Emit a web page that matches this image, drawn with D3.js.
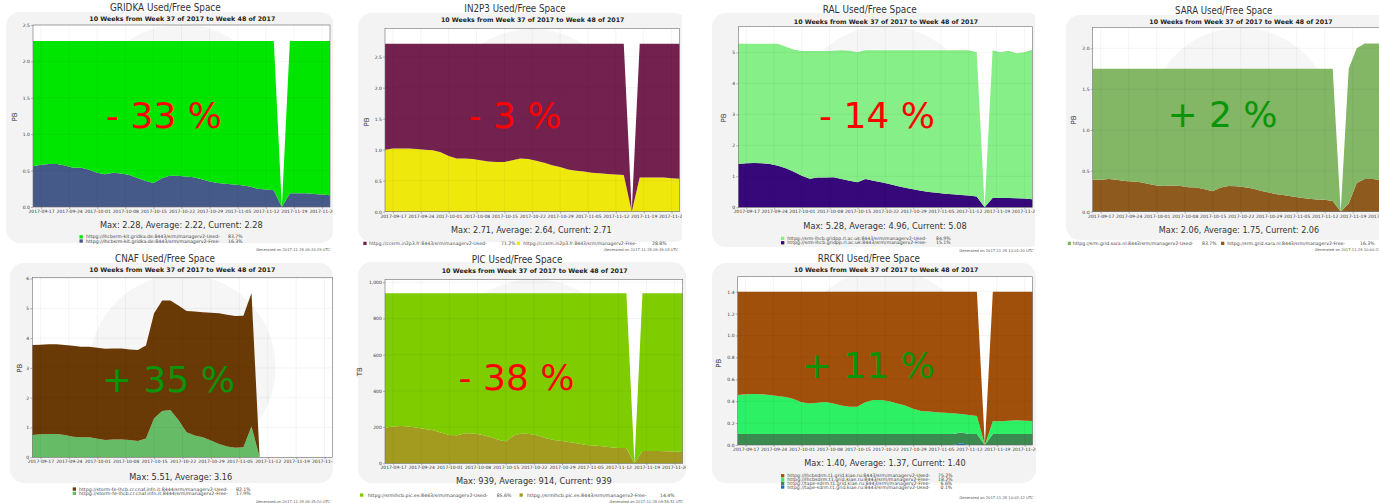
<!DOCTYPE html>
<html>
<head>
<meta charset="utf-8">
<script src="https://cdn.jsdelivr.net/npm/d3@7/dist/d3.min.js"></script>
<style>
html,body{margin:0;padding:0;background:#fff;}
svg{display:block;}
text{font-family:"DejaVu Sans",sans-serif;}
</style>
</head>
<body>
<svg id="chart" width="1379" height="503"></svg>
<script>
// ---------- shared time axis ----------
const dates = ["2017-09-15","2017-09-17","2017-09-19","2017-09-21","2017-09-23","2017-09-25","2017-09-27","2017-09-29",
"2017-10-01","2017-10-03","2017-10-05","2017-10-07","2017-10-09","2017-10-11","2017-10-13","2017-10-15",
"2017-10-17","2017-10-19","2017-10-21","2017-10-23","2017-10-25","2017-10-27","2017-10-29","2017-10-31",
"2017-11-02","2017-11-04","2017-11-06","2017-11-08","2017-11-10","2017-11-12","2017-11-14","2017-11-16",
"2017-11-18","2017-11-20","2017-11-22","2017-11-24","2017-11-26","2017-11-28"];
const xTickLabels = ["2017-09-17","2017-09-24","2017-10-01","2017-10-08","2017-10-15","2017-10-22","2017-10-29","2017-11-05","2017-11-12","2017-11-19","2017-11-26"];

// ---------- GRIDKA (PB) ----------
const gridkaUsed = [1.72,1.70,1.69,1.69,1.71,1.74,1.74,1.77,1.81,1.83,1.81,1.82,1.84,1.88,1.92,1.95,1.89,1.85,1.85,1.86,1.87,1.90,1.93,1.95,1.96,1.97,1.98,2.00,2.03,2.04,2.05,0,2.09,2.09,2.09,2.10,2.11,2.12];
const gridkaFree = [0.56,0.58,0.59,0.59,0.57,0.54,0.54,0.51,0.47,0.45,0.47,0.46,0.44,0.40,0.36,0.33,0.39,0.43,0.43,0.42,0.41,0.38,0.35,0.33,0.32,0.31,0.30,0.28,0.25,0.24,0.23,0,0.19,0.19,0.19,0.18,0.17,0.16];
const gridkaYTicks = [0,0.5,1,1.5,2,2.5];

// ---------- IN2P3 (PB) ----------
const in2p3Used = [1.71,1.69,1.69,1.69,1.70,1.71,1.72,1.75,1.81,1.85,1.85,1.86,1.88,1.90,1.91,1.91,1.88,1.85,1.86,1.89,1.92,1.96,1.99,2.03,2.05,2.06,2.08,2.09,2.10,2.11,2.12,0,2.16,2.16,2.16,2.16,2.17,2.18];
const in2p3Free = [1.00,1.02,1.02,1.02,1.01,1.00,0.99,0.96,0.90,0.86,0.86,0.85,0.83,0.81,0.80,0.80,0.83,0.86,0.85,0.82,0.79,0.75,0.72,0.68,0.66,0.65,0.63,0.62,0.61,0.60,0.59,0,0.55,0.55,0.55,0.55,0.54,0.53];
const in2p3YTicks = [0,0.5,1,1.5,2,2.5];

// ---------- RAL (PB) ----------
const ralUsed = [3.88,3.86,3.85,3.86,3.88,3.94,3.92,3.93,4.02,4.12,4.08,4.08,4.08,4.16,4.19,4.19,4.16,4.21,4.26,4.32,4.38,4.44,4.49,4.54,4.58,4.60,4.63,4.65,4.67,4.69,4.65,0,4.77,4.70,4.75,4.68,4.72,4.82];
const ralFree = [1.40,1.42,1.43,1.42,1.40,1.34,1.26,1.15,1.02,0.92,0.96,0.96,0.97,0.91,0.86,0.81,0.91,0.86,0.81,0.75,0.69,0.63,0.58,0.53,0.49,0.47,0.44,0.42,0.40,0.38,0.35,0,0.30,0.30,0.30,0.29,0.28,0.26];
const ralYTicks = [0,1,2,3,4,5];

// ---------- SARA (PB) ----------
const saraUsed = [1.36,1.36,1.35,1.36,1.375,1.38,1.39,1.41,1.43,1.435,1.43,1.435,1.45,1.455,1.475,1.50,1.455,1.435,1.44,1.45,1.465,1.495,1.515,1.535,1.55,1.565,1.58,1.59,1.60,1.605,1.62,0,1.65,1.65,1.66,1.66,1.67,1.67];
const saraFree = [0.39,0.39,0.40,0.39,0.375,0.37,0.36,0.34,0.32,0.315,0.32,0.315,0.30,0.295,0.275,0.25,0.295,0.315,0.31,0.30,0.285,0.255,0.235,0.215,0.20,0.185,0.17,0.16,0.15,0.145,0.13,0,0.10,0.35,0.40,0.40,0.39,0.39];
const saraYTicks = [0,0.5,1,1.5,2];

// ---------- CNAF (PB) ----------
const cnafUsed = [3.02,3.01,3.01,3.01,3.02,3.05,3.04,3.04,3.06,3.06,3.05,3.05,3.04,3.05,3.12,3.52,3.71,3.67,3.84,4.07,4.16,4.20,4.29,4.38,4.42,4.42,4.41,4.48,0,null,null,null,null,null,null,null,null,null];
const cnafFree = [0.75,0.77,0.78,0.78,0.75,0.69,0.67,0.67,0.62,0.58,0.60,0.60,0.58,0.55,0.63,1.31,1.55,1.59,1.25,0.84,0.73,0.67,0.56,0.45,0.36,0.32,0.34,1.03,0,null,null,null,null,null,null,null,null,null];
const cnafYTicks = [0,1,2,3,4,5,6];

// ---------- PIC (TB) ----------
const picUsed = [742,736,733,735,742,749,757,770,782,784,773,775,781,792,808,819,786,775,777,786,801,810,816,823,830,838,841,845,851,854,854,0,871,871,871,872,874,877];
const picFree = [197,203,206,204,197,190,182,169,157,155,166,164,158,147,131,120,153,164,162,153,138,129,123,116,109,101,98,94,88,85,85,0,68,68,68,67,65,62];
const picYTicks = [0,200,400,600,800,1000];

// ---------- RRCKI (PB) ----------
const rrckiDiskUsed = [0.944,0.937,0.934,0.937,0.944,0.953,0.962,0.98,1.01,1.02,1.014,1.007,1.02,1.04,1.05,1.05,1.01,0.99,0.99,1.00,1.02,1.04,1.07,1.09,1.093,1.10,1.105,1.11,1.117,1.126,1.135,0,1.184,1.184,1.178,1.175,1.178,1.181];
const rrckiDiskFree = [0.356,0.363,0.366,0.363,0.356,0.347,0.338,0.32,0.29,0.28,0.286,0.293,0.28,0.26,0.25,0.25,0.29,0.31,0.31,0.30,0.28,0.26,0.23,0.21,0.207,0.20,0.195,0.19,0.168,0.174,0.165,0,0.116,0.116,0.122,0.125,0.122,0.119];
const rrckiTapeFree = [0.1,0.1,0.1,0.1,0.1,0.1,0.1,0.1,0.1,0.1,0.1,0.1,0.1,0.1,0.1,0.1,0.1,0.1,0.1,0.1,0.1,0.1,0.1,0.1,0.1,0.1,0.1,0.1,0.1,0.1,0.1,0,0.1,0.1,0.1,0.1,0.1,0.1];
const rrckiTapeUsed = [0,0,0,0,0,0,0,0,0,0,0,0,0,0,0,0,0,0,0,0,0,0,0,0,0,0,0,0,0.015,0,0,0,0,0,0,0,0,0];
const rrckiYTicks = [0,0.2,0.4,0.6,0.8,1.0,1.2,1.4];

const SUB = "10 Weeks from Week 37 of 2017 to Week 48 of 2017";
const RED = "#ff0000", GREEN = "#0a940a";

// ---------- panel layout (positions/styles only) ----------
const panels = [
 { title:"GRIDKA Used/Free Space", unit:"PB", fmt:".1f", yTicks:gridkaYTicks,
   x0:33, x1:330, yt:25, yb:207, ymax:2.5, clip:[0,0,333,252.5], bg:[6,12,328,231],
   t:[165.3,11.2,110.7], s:[182.3,20.7,186], m:["Max: 2.28, Average: 2.22, Current: 2.28",181.3,227.7,162.7],
   big:["- 33 %",164,128,RED], yl:[14.3,117], gen:["Generated on 2017-11-28 09:33:29 UTC",330,250.7],
   series:[{v:gridkaFree,c:"#465a8a"},{v:gridkaUsed,c:"#00e600"}],
   legend:[{c:"#00e600",l:"httpg://lhcbsrm-kit.gridka.de:8443/srm/managerv2-Used-",p:"83.7%",sx:79.5,cy:236.8,tx:86,tw:134,px:228},
           {c:"#465a8a",l:"httpg://lhcbsrm-kit.gridka.de:8443/srm/managerv2-Free-",p:"16.3%",sx:79.5,cy:241.0,tx:86,tw:134,px:228}]},
 { title:"IN2P3 Used/Free Space", unit:"PB", fmt:".1f", yTicks:in2p3YTicks,
   x0:385, x1:679.5, yt:28.3, yb:211.7, ymax:2.958, clip:[345,0,682,252.5], bg:[358,13,330,229],
   t:[515,11.7,101.3], s:[532.7,22.3,183.3], m:["Max: 2.71, Average: 2.64, Current: 2.71",531.3,232.7,160.7],
   big:["- 3 %",515,127.7,RED], yl:[367,122], gen:["Generated on 2017-11-28 09:39:18 UTC",678,250.7],
   series:[{v:in2p3Free,c:"#efe80c"},{v:in2p3Used,c:"#73224f"}],
   legend:[{c:"#73224f",l:"httpg://ccsrm.in2p3.fr:8443/srm/managerv2-Used-",p:"71.2%",sx:363.3,cy:243.3,tx:369,tw:117.7,px:501},
           {c:"#efe80c",l:"httpg://ccsrm.in2p3.fr:8443/srm/managerv2-Free-",p:"28.8%",sx:516.7,cy:243.3,tx:523.3,tw:113.4,px:652}]},
 { title:"RAL Used/Free Space", unit:"PB", fmt:"d", yTicks:ralYTicks,
   x0:738.3, x1:1032.3, yt:26.7, yb:207.3, ymax:5.826, clip:[690,0,1035,253], bg:[712,13,330,234],
   t:[869.7,13.3,94], s:[886,24,184.3], m:["Max: 5.28, Average: 4.96, Current: 5.08",885,229.3,163.3],
   big:["- 14 %",877,127.7,RED], yl:[723.3,118], gen:["Generated on 2017-11-28 10:01:20 UTC",1033.3,252.3],
   series:[{v:ralFree,c:"#37087a"},{v:ralUsed,c:"#87ef87"}],
   legend:[{c:"#87ef87",l:"httpg://srm-lhcb.gridpp.rl.ac.uk:8443/srm/managerv2-Used-",p:"84.9%",sx:781,cy:238.3,tx:787.3,tw:139.4,px:936},
           {c:"#37087a",l:"httpg://srm-lhcb.gridpp.rl.ac.uk:8443/srm/managerv2-Free-",p:"15.1%",sx:781,cy:242.7,tx:787.3,tw:139.4,px:936}]},
 { title:"SARA Used/Free Space", unit:"PB", fmt:".1f", yTicks:saraYTicks,
   x0:1092.7, x1:1388.7, yt:27.3, yb:211.7, ymax:2.257, clip:[1040,0,1379,253], bg:[1066,15,330,225],
   t:[1223.7,14,97.3], s:[1241,24,183.3], m:["Max: 2.06, Average: 1.75, Current: 2.06",1239,232.7,160.3],
   big:["+ 2 %",1222.5,126.7,GREEN], yl:[1073.3,120], gen:["Generated on 2017-11-28 10:00:23 UTC",1388.7,250.7],
   series:[{v:saraFree,c:"#8e5a1d"},{v:saraUsed,c:"#83b765"}],
   legend:[{c:"#83b765",l:"httpg://srm.grid.sara.nl:8443/srm/managerv2-Used-",p:"83.7%",sx:1067.7,cy:243.3,tx:1072.7,tw:120.6,px:1202},
           {c:"#8e5a1d",l:"httpg://srm.grid.sara.nl:8443/srm/managerv2-Free-",p:"16.3%",sx:1221,cy:243.3,tx:1227.3,tw:117.7,px:1360}]},
 { title:"CNAF Used/Free Space", unit:"PB", fmt:"d", yTicks:cnafYTicks,
   x0:32.3, x1:332.7, yt:277.3, yb:457.3, ymax:6.04, clip:[0,253,333,503], bg:[10,263,323,220],
   t:[165,262.3,100], s:[182.3,272.3,186], m:["Max: 5.51, Average: 3.16",180.8,480,103],
   big:["+ 35 %",168.5,391.7,GREEN], yl:[20,368.3], gen:["Generated on 2017-11-28 09:35:20 UTC",330,502.6],
   series:[{v:cnafFree,c:"#66bb66"},{v:cnafUsed,c:"#6a3a06"}],
   legend:[{c:"#6a3a06",l:"httpg://storm-fe-lhcb.cr.cnaf.infn.it:8444/srm/managerv2-Used-",p:"82.1%",sx:72.7,cy:489,tx:79,tw:149,px:236},
           {c:"#66bb66",l:"httpg://storm-fe-lhcb.cr.cnaf.infn.it:8444/srm/managerv2-Free-",p:"17.9%",sx:72.7,cy:493.3,tx:79,tw:149,px:236}]},
 { title:"PIC Used/Free Space", unit:"TB", fmt:",", yTicks:picYTicks,
   x0:385, x1:682.7, yt:279.3, yb:463.3, ymax:1016.6, clip:[345,253,686,503], bg:[358,262,328,221],
   t:[517,262.7,90.7], s:[534.7,272.7,186], m:["Max: 939, Average: 914, Current: 939",533.8,484.3,155.7],
   big:["- 38 %",516.5,390,RED], yl:[360,371.7], gen:["Generated on 2017-11-28 09:58:51 UTC",683.3,502.7],
   series:[{v:picFree,c:"#a39b1f"},{v:picUsed,c:"#7fcc00"}],
   legend:[{c:"#7fcc00",l:"httpg://srmlhcb.pic.es:8443/srm/managerv2-Used-",p:"85.6%",sx:360,cy:495,tx:367.7,tw:120,px:496.7},
           {c:"#a39b1f",l:"httpg://srmlhcb.pic.es:8443/srm/managerv2-Free-",p:"14.4%",sx:519.5,cy:495,tx:527,tw:119.7,px:660}]},
 { title:"RRCKI Used/Free Space", unit:"PB", fmt:".1f", yTicks:rrckiYTicks,
   x0:737.7, x1:1032.7, yt:276.7, yb:445, ymax:1.537, clip:[695,253,1036,503], bg:[712,263,324,220],
   t:[868.8,261.7,102.3], s:[886.2,272.3,184.3], m:["Max: 1.40, Average: 1.37, Current: 1.40",885,466,161.3],
   big:["+ 11 %",868.3,377.7,GREEN], yl:[718.3,363.3], gen:["Generated on 2017-11-28 10:02:12 UTC",1033.3,499.3],
   series:[{v:rrckiTapeUsed,c:"#1569c7"},{v:rrckiTapeFree,c:"#3b8a4f"},{v:rrckiDiskFree,c:"#2ef065"},{v:rrckiDiskUsed,c:"#a1500b"}],
   legend:[{c:"#a1500b",l:"httpg://lhcbsdrm.t1.grid.kiae.ru:8443/srm/managerv2-Used-",p:"75.2%",sx:781,cy:475.7,tx:787.3,tw:142.7,px:938},
           {c:"#2ef065",l:"httpg://lhcbsdrm.t1.grid.kiae.ru:8443/srm/managerv2-Free-",p:"18.2%",sx:781,cy:479.7,tx:787.3,tw:142.7,px:938},
           {c:"#3b8a4f",l:"httpg://tape-sdrm.t1.grid.kiae.ru:8443/srm/managerv2-Free-",p:"6.6%",sx:781,cy:483.3,tx:787.3,tw:142.7,px:940.5},
           {c:"#1569c7",l:"httpg://tape-sdrm.t1.grid.kiae.ru:8443/srm/managerv2-Used-",p:"0.1%",sx:781,cy:487,tx:787.3,tw:142.7,px:940.5}]}
];

const svg = d3.select("#chart");
const defs = svg.append("defs");
const parse = d3.utcParse("%Y-%m-%d");
const xs = dates.map(parse);
const tickDates = xTickLabels.map(parse);

function label(g, x, y, str, o) {
  const t = g.append("text").attr("x", x).attr("y", y).text(str)
    .attr("font-size", o.fs).attr("fill", o.fill || "#333")
    .attr("text-anchor", o.anchor || "start");
  if (o.weight) t.attr("font-weight", o.weight);
  if (o.family) t.attr("font-family", o.family);
  if (o.w) t.attr("textLength", o.w).attr("lengthAdjust", "spacingAndGlyphs");
  return t;
}

panels.forEach((p, idx) => {
  defs.append("clipPath").attr("id", "clip" + idx).append("rect")
    .attr("x", p.clip[0]).attr("y", p.clip[1])
    .attr("width", p.clip[2] - p.clip[0]).attr("height", p.clip[3] - p.clip[1]);
  const g = svg.append("g").attr("clip-path", `url(#clip${idx})`);

  // panel background
  g.append("rect").attr("x", p.bg[0]).attr("y", p.bg[1]).attr("width", p.bg[2]).attr("height", p.bg[3])
    .attr("rx", 14).attr("fill", "#f3f3f3");

  const x = d3.scaleUtc().domain([xs[0], xs[xs.length - 1]]).range([p.x0, p.x1]);
  const y = d3.scaleLinear().domain([0, p.ymax]).range([p.yb, p.yt]);

  // plot background + faint watermark
  g.append("rect").attr("x", p.x0).attr("y", p.yt).attr("width", p.x1 - p.x0).attr("height", p.yb - p.yt).attr("fill", "#fff");
  g.append("circle").attr("cx", (p.x0 + p.x1) / 2).attr("cy", (p.yt + p.yb) / 2)
    .attr("r", (p.x1 - p.x0) * 0.31).attr("fill", "#f6f6f6");

  // stacked areas
  let base = xs.map(() => 0);
  p.series.forEach(s => {
    const pts = xs.map((d, i) => ({ d, v: s.v[i], b: base[i] }));
    const area = d3.area().defined(q => q.v != null)
      .x(q => x(q.d)).y0(q => y(q.b)).y1(q => y(q.b + q.v));
    g.append("path").attr("d", area(pts)).attr("fill", s.c);
    base = base.map((b, i) => b + (s.v[i] == null ? 0 : s.v[i]));
  });

  // grid
  const grid = g.append("g").attr("stroke", "#000").attr("stroke-opacity", 0.08).attr("stroke-width", 0.6);
  tickDates.forEach(d => grid.append("line").attr("x1", x(d)).attr("x2", x(d)).attr("y1", p.yt).attr("y2", p.yb));
  p.yTicks.forEach(v => grid.append("line").attr("x1", p.x0).attr("x2", p.x1).attr("y1", y(v)).attr("y2", y(v)));

  // frame
  g.append("rect").attr("x", p.x0).attr("y", p.yt).attr("width", p.x1 - p.x0).attr("height", p.yb - p.yt)
    .attr("fill", "none").attr("stroke", "#6e6e6e").attr("stroke-width", 0.6);

  // axes
  const ax = g.append("g").attr("transform", `translate(0,${p.yb})`)
    .call(d3.axisBottom(x).tickValues(tickDates).tickFormat(d3.utcFormat("%Y-%m-%d")).tickSize(2).tickPadding(0.7));
  const ay = g.append("g").attr("transform", `translate(${p.x0},0)`)
    .call(d3.axisLeft(y).tickValues(p.yTicks).tickFormat(d3.format(p.fmt)).tickSize(2).tickPadding(1.2));
  [ax, ay].forEach(a => {
    a.select(".domain").remove();
    a.attr("font-size", 4.5).attr("font-family", "DejaVu Sans");
    a.selectAll("line").attr("stroke", "#6e6e6e").attr("stroke-width", 0.5);
    a.selectAll("text").attr("fill", "#333");
  });

  // texts
  label(g, p.t[0], p.t[1], p.title, { fs: 10, anchor: "middle", w: p.t[2] });
  label(g, p.s[0], p.s[1], SUB, { fs: 6.3, anchor: "middle", w: p.s[2], weight: "bold", fill: "#222" });
  label(g, p.m[1], p.m[2], p.m[0], { fs: 9.2, anchor: "middle", w: p.m[3] });
  label(g, p.yl[0], p.yl[1], p.unit, { fs: 7, anchor: "middle" })
    .attr("transform", `rotate(-90,${p.yl[0]},${p.yl[1]})`).attr("dy", "0.35em");
  label(g, p.gen[1], p.gen[2], p.gen[0], { fs: 3.7, anchor: "end", w: 74, fill: "#555" });

  p.legend.forEach(e => {
    g.append("rect").attr("x", e.sx).attr("y", e.cy - 1.6).attr("width", 3.3).attr("height", 3.3).attr("fill", e.c);
    label(g, e.tx, e.cy + 1.6, e.l, { fs: 4.6, w: e.tw, fill: "#444" });
    label(g, e.px, e.cy + 1.6, e.p, { fs: 4.6, fill: "#444" });
  });

  // big percentage overlay
  label(g, p.big[1], p.big[2], p.big[0], { fs: 36, anchor: "middle", fill: p.big[3], family: "'Liberation Sans', Arial, sans-serif" });
});
</script>
</body>
</html>
